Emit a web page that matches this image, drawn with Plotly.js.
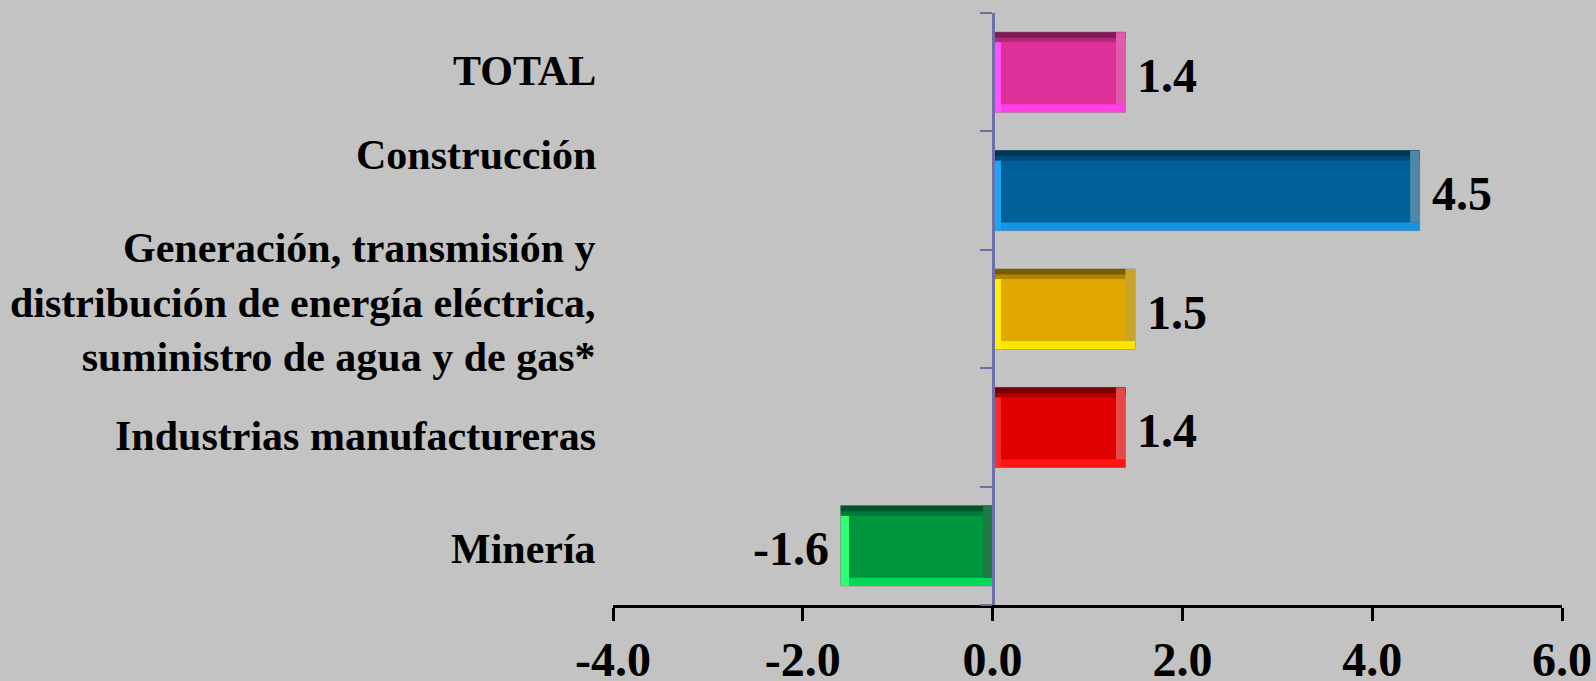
<!DOCTYPE html>
<html>
<head>
<meta charset="utf-8">
<script src="https://cdn.plot.ly/plotly-3.0.1.min.js"></script>
<style>
  html, body { margin: 0; padding: 0; background: #C3C3C3; }
  #chart { width: 1596px; height: 681px; }
</style>
</head>
<body>
<div id="chart"></div>
<script>
// ---- data ----
const categories = ["Minería", "Industrias manufactureras", "Generación, transmisión y<br>distribución de energía eléctrica,<br>suministro de agua y de gas*", "Construcción", "TOTAL"];
const values = [-1.6, 1.4, 1.5, 4.5, 1.4];
const valueLabels = ["-1.6", "1.4", "1.5", "4.5", "1.4"];
const xTickVals = [-4, -2, 0, 2, 4, 6];
const xTickText = ["-4.0", "-2.0", "0.0", "2.0", "4.0", "6.0"];

// ---- styles ----
const mainColors   = ["#00963E", "#E00000", "#E0A800", "#00609A", "#E0309A"];
const topColors    = ["#00552A", "#7A0000", "#7A5C00", "#003656", "#7E1C56"];
const topInner     = ["#00783A", "#B00000", "#B08400", "#004A78", "#B02A7C"];
const bottomColors = ["#00D85A", "#FF1414", "#FFE400", "#1494E2", "#FF40E6"];
const leftColors   = ["#30FF74", "#FF2A2A", "#FFEE10", "#1AA6F4", "#FF52FF"];
const rightColors  = ["#1E7A44", "#E84848", "#C8A428", "#4E88A8", "#E05AAE"];
const labelShift   = [-3, -9, 7, 36, 1];

const BAR_W = 0.676;       // bar thickness in category units
const TOP_T = 0.085;       // bevel thickness (category units)
const BOT_T = 0.068;
const LEFT_T = 0.088;      // bevel thickness (x units)
const RIGHT_T = 0.10;

const half = BAR_W / 2;
const lefts = values.map(v => Math.min(0, v));
const rights = values.map(v => Math.max(0, v));
const n = categories.length;
const fill = (v) => Array(n).fill(v);

const common = {
  type: "bar", orientation: "h", y: categories, hoverinfo: "skip",
  showlegend: false
};

const traces = [
  Object.assign({}, common, {
    x: values, base: fill(0), width: fill(BAR_W), offset: fill(-half),
    marker: { color: mainColors, line: { color: "#8A8A8A", width: 1 } }
  }),
  Object.assign({}, common, {
    x: values, base: fill(0), width: fill(TOP_T), offset: fill(half - TOP_T),
    marker: { color: topInner, line: { width: 0 } }
  }),
  Object.assign({}, common, {
    x: values, base: fill(0), width: fill(TOP_T * 0.55), offset: fill(half - TOP_T * 0.55),
    marker: { color: topColors, line: { width: 0 } }
  }),
  Object.assign({}, common, {
    x: values, base: fill(0), width: fill(BOT_T), offset: fill(-half),
    marker: { color: bottomColors, line: { width: 0 } }
  }),
  Object.assign({}, common, {
    x: fill(LEFT_T), base: lefts, width: fill(BAR_W - TOP_T), offset: fill(-half),
    marker: { color: leftColors, line: { width: 0 } }
  }),
  Object.assign({}, common, {
    x: fill(RIGHT_T), base: rights.map(r => r - RIGHT_T), width: fill(BAR_W - BOT_T), offset: fill(-half + BOT_T),
    marker: { color: rightColors, line: { width: 0 } }
  })
];

const font = { family: "Liberation Serif, Times New Roman, serif", color: "#000000", weight: "bold" };

const annotations = [];
categories.forEach((c, i) => {
  annotations.push({
    xref: "paper", yref: "y", x: 0, y: c, xanchor: "right", yanchor: "middle",
    xshift: -15, yshift: labelShift[i], align: "right", showarrow: false,
    text: c, font: Object.assign({}, font, { size: 42 })
  });
  const v = values[i];
  annotations.push({
    xref: "x", yref: "y", x: v, y: c, xanchor: v < 0 ? "right" : "left", yanchor: "middle",
    xshift: v < 0 ? -10 : 10, yshift: -3, showarrow: false,
    text: valueLabels[i], font: Object.assign({}, font, { size: 48 })
  });
});

const layout = {
  width: 1596, height: 681,
  margin: { l: 613, r: 34, t: 13, b: 76, pad: 0 },
  paper_bgcolor: "#C3C3C3", plot_bgcolor: "#C3C3C3",
  barmode: "overlay",
  xaxis: {
    range: [-4, 6], tickvals: xTickVals, ticktext: xTickText,
    showgrid: false, zeroline: false, showline: true, linecolor: "#000000", linewidth: 3,
    ticks: "outside", ticklen: 13, tickwidth: 3, tickcolor: "#000000",
    ticklabelstandoff: -3,
    tickfont: Object.assign({}, font, { size: 48 }), automargin: false, fixedrange: true
  },
  yaxis: {
    type: "category", categoryorder: "array", categoryarray: categories,
    range: [-0.5, 4.5], anchor: "free", position: 0.4,
    showgrid: false, zeroline: false, showline: true, linecolor: "#6E6EA8", linewidth: 3,
    ticks: "outside", tickson: "boundaries", ticklen: 12, tickwidth: 2, tickcolor: "#6E6EA8",
    showticklabels: false, automargin: false, fixedrange: true
  },
  annotations: annotations
};

Plotly.newPlot("chart", traces, layout, { staticPlot: true, displayModeBar: false });
</script>
</body>
</html>
